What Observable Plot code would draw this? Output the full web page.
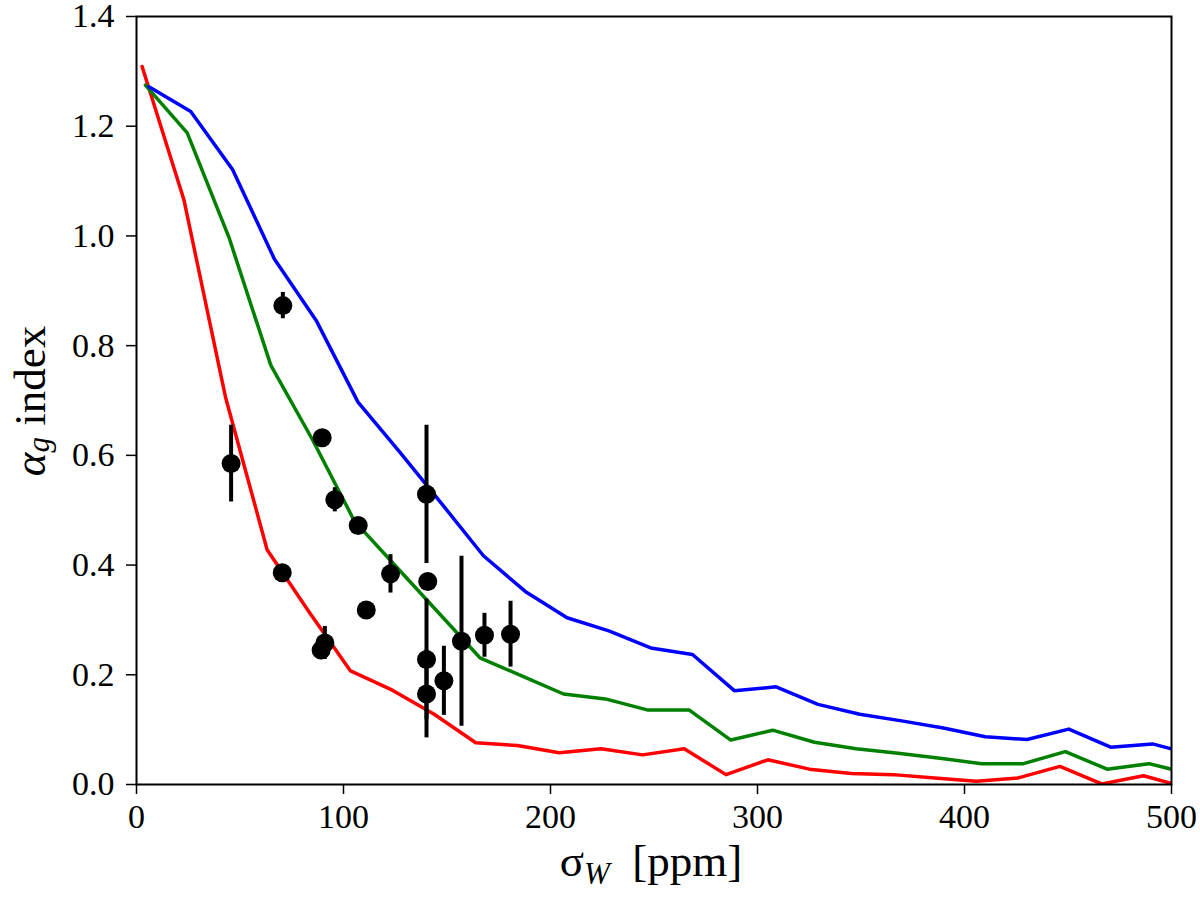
<!DOCTYPE html>
<html>
<head>
<meta charset="utf-8">
<script src="https://cdn.jsdelivr.net/npm/d3@7"></script>
<script src="https://cdn.jsdelivr.net/npm/@observablehq/plot@0.6"></script>
<style>
  body { margin: 0; background: #fff; }
  #chart svg text { font-family: "Liberation Serif", "Times New Roman", Times, "DejaVu Serif", serif !important; }
</style>
</head>
<body>
<div id="chart"></div>
<script>
// model curves (sigma_W in ppm, alpha_g)
const redX = [2.7, 22.9, 43, 63.1, 83.3, 103.4, 123.6, 143.8, 163.9, 184, 204.2, 224.4, 244.5, 264.6, 284.8, 305, 325.1, 345.3, 365.5, 385.6, 405.8, 426, 446.1, 466.3, 486.5, 506.6];
const redY = [1.309, 1.066, 0.706, 0.428, 0.315, 0.207, 0.172, 0.128, 0.076, 0.071, 0.058, 0.065, 0.054, 0.065, 0.018, 0.045, 0.028, 0.020, 0.018, 0.012, 0.006, 0.012, 0.033, 0.001, 0.016, -0.005];

const greenX = [4.3, 24.5, 44.7, 64.9, 85.1, 105.3, 125.5, 145.7, 165.9, 186.1, 206.3, 226.5, 246.7, 266.9, 287.1, 307.3, 327.5, 347.7, 367.9, 388.1, 408.3, 428.5, 448.7, 468.9, 489.1, 509.3];
const greenY = [1.275, 1.188, 0.997, 0.764, 0.628, 0.480, 0.397, 0.314, 0.231, 0.198, 0.165, 0.156, 0.136, 0.136, 0.081, 0.099, 0.077, 0.065, 0.057, 0.048, 0.038, 0.038, 0.060, 0.028, 0.038, 0.019];

const blueX = [6, 26.2, 46.4, 66.6, 86.8, 107, 127.2, 147.4, 167.6, 187.8, 208, 228.2, 248.4, 268.6, 288.8, 309, 329.2, 349.4, 369.6, 389.8, 410, 430.2, 450.4, 470.6, 490.8, 511];
const blueY = [1.272, 1.227, 1.121, 0.958, 0.846, 0.697, 0.606, 0.512, 0.417, 0.352, 0.304, 0.280, 0.249, 0.237, 0.171, 0.178, 0.146, 0.128, 0.116, 0.103, 0.087, 0.082, 0.101, 0.068, 0.074, 0.054];

// observed stars
const obsX = [45.7, 70.7, 70.4, 89.7, 95.8, 107.1, 111, 122.7, 140.1, 140.7, 140.1, 140.1, 148.5, 157, 168.1, 180.7, 91, 89.2];
const obsY = [0.585, 0.873, 0.386, 0.632, 0.519, 0.472, 0.318, 0.384, 0.529, 0.370, 0.228, 0.165, 0.189, 0.261, 0.272, 0.274, 0.258, 0.245];
const obsErr = [0.07, 0.024, 0.01, 0.008, 0.022, 0.008, 0.008, 0.035, 0.126, 0.008, 0.11, 0.08, 0.063, 0.155, 0.04, 0.06, 0.03, 0.01];

const xTicks = [0, 100, 200, 300, 400, 500];
const yTicks = [0, 0.2, 0.4, 0.6, 0.8, 1.0, 1.2, 1.4];

const serif = "Liberation Serif, Times New Roman, Times, DejaVu Serif, serif";

const curve = (xs, ys) => xs.map((x, i) => ({x, y: ys[i]}));
const red = curve(redX, redY);
const green = curve(greenX, greenY);
const blue = curve(blueX, blueY);
const obs = obsX.map((x, i) => ({x, y: obsY[i], lo: obsY[i] - obsErr[i], hi: obsY[i] + obsErr[i]}));

const chart = Plot.plot({
  width: 1200,
  height: 898,
  marginLeft: 136,
  marginRight: 29,
  marginTop: 16,
  marginBottom: 114,
  style: {fontFamily: serif, background: "#fff", color: "#000", overflow: "visible"},
  x: {domain: [0, 500]},
  y: {domain: [0, 1.4]},
  marks: [
    Plot.line(red, {x: "x", y: "y", stroke: "#ff0000", strokeWidth: 3.5, clip: true}),
    Plot.line(green, {x: "x", y: "y", stroke: "#008000", strokeWidth: 3.5, clip: true}),
    Plot.line(blue, {x: "x", y: "y", stroke: "#0000ff", strokeWidth: 3.5, clip: true}),
    Plot.ruleX(obs, {x: "x", y1: "lo", y2: "hi", stroke: "#000", strokeWidth: 4}),
    Plot.dot(obs, {x: "x", y: "y", r: 9.5, fill: "#000"}),
    Plot.frame({stroke: "#000", strokeWidth: 2}),
    Plot.axisX({ticks: xTicks, tickSize: 10, tickPadding: 9, strokeWidth: 1.5, label: null,
      fontSize: 34, tickFormat: d3.format("d")}),
    Plot.axisY({ticks: yTicks, tickSize: 10, tickPadding: 12, strokeWidth: 1.5, label: null,
      fontSize: 34, tickFormat: d3.format(".1f")})
  ]
});

const svg = d3.select(chart);

// y label: alpha_g index
const yl = svg.append("text")
  .attr("transform", "translate(45,401) rotate(-90)")
  .attr("text-anchor", "middle")
  .attr("font-size", 45)
  .attr("fill", "#000");
yl.append("tspan").attr("font-style", "italic").text("α");
yl.append("tspan").attr("font-style", "italic").attr("font-size", 31).attr("dy", 4).text("g");
yl.append("tspan").attr("dy", -4).text(" index");

// x label: sigma_W [ppm]
const xl = svg.append("text")
  .attr("x", 651)
  .attr("y", 876)
  .attr("text-anchor", "middle")
  .attr("font-size", 45)
  .attr("fill", "#000");
xl.append("tspan").text("σ");
xl.append("tspan").attr("font-style", "italic").attr("font-size", 31).attr("dy", 8).text("W");
xl.append("tspan").attr("dy", -8).text("  [ppm]");

document.getElementById("chart").append(chart);
</script>
</body>
</html>
